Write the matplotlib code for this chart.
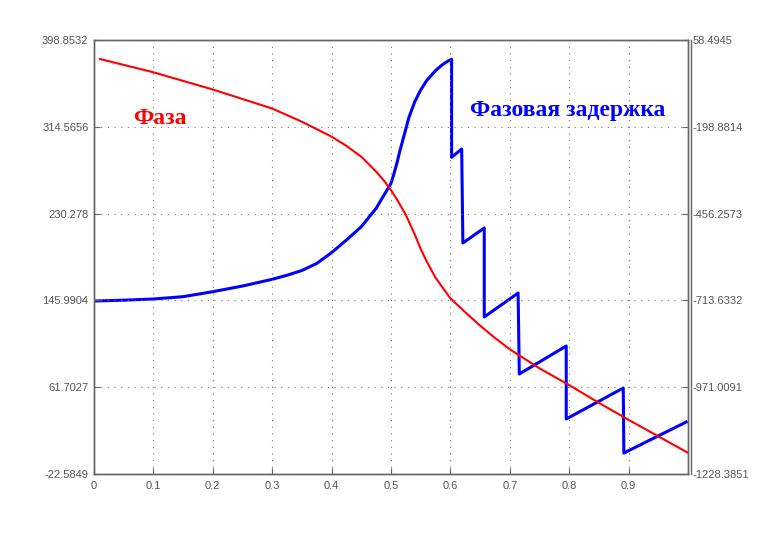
import numpy as np
import matplotlib
matplotlib.use("Agg")
import matplotlib.pyplot as plt
from matplotlib.lines import Line2D

# --- data ---
# red curve "Фаза" (left axis)
phase_x = [0.01, 0.1, 0.2, 0.3, 0.35, 0.4, 0.425, 0.45, 0.475, 0.49, 0.5,
           0.51, 0.525, 0.54, 0.55, 0.56, 0.575, 0.59, 0.6, 0.625,
           0.65, 0.675, 0.7, 0.75, 0.8, 0.85, 0.9, 0.95, 1.0]
phase_y = [380.4, 367.5, 350.8, 332.3, 319.5, 305.0, 296.0, 285.5, 271.0,
           261.0, 253.0, 244.0, 229.0, 210.0, 196.0, 184.0, 168.0, 156.0,
           148.0, 134.5, 121.5, 109.5, 98.5, 80.0, 63.8, 46.5, 30.0, 14.0,
           -2.0]

# blue curve "Фазовая задержка" (right axis)
delay_x = [0.0, 0.05, 0.1, 0.15, 0.2, 0.25, 0.3, 0.325, 0.35, 0.375, 0.4,
           0.425, 0.45, 0.475, 0.49, 0.5, 0.505, 0.51, 0.515, 0.525, 0.53,
           0.54, 0.55, 0.56, 0.575, 0.585, 0.59, 0.595, 0.602,
           0.602, 0.619, 0.621, 0.657, 0.657, 0.714, 0.716, 0.795, 0.795,
           0.891, 0.892, 0.997]
delay_y = [-715.4, -713.0, -709.5, -702.6, -687.8, -671.0, -651.1, -639.0,
           -625.0, -604.0, -572.0, -534.5, -495.1, -440.6, -396.0, -366.4,
           -338.0, -306.2, -270.0, -205.0, -172.0, -124.4, -89.8, -62.1,
           -32.0, -17.0, -10.5, -5.0, 1.3,
           -289.3, -264.7, -543.4, -498.9, -762.8, -691.7, -931.9, -848.8,
           -1065.3, -973.4, -1166.2, -1074.2]

x_ticks = [0, 0.1, 0.2, 0.3, 0.4, 0.5, 0.6, 0.7, 0.8, 0.9]
x_labels = ['0', '0.1', '0.2', '0.3', '0.4', '0.5', '0.6', '0.7', '0.8', '0.9']
left_lim = (-22.5849, 398.8532)
left_labels = ['-22.5849', '61.7027', '145.9904', '230.278', '314.5656', '398.8532']
right_lim = (-1228.3851, 58.4945)
right_labels = ['-1228.3851', '-971.0091', '-713.6332', '-456.2573', '-198.8814', '58.4945']

W, H = 771, 533
axcol = '#666666'
txtcol = '#555555'
plt.rcParams['font.family'] = ['Liberation Sans', 'DejaVu Sans']

fig = plt.figure(figsize=(W / 100, H / 100), dpi=100)
fig.patch.set_facecolor('white')
ax = fig.add_axes([94 / W, (H - 474) / H, (688 - 94) / W, (474 - 40) / H])
ax2 = ax.twinx()

ax.plot(phase_x, phase_y, color='#ff0000', lw=1.5, zorder=3)
ax2.plot(delay_x, delay_y, color='#0000ff', lw=2.2, zorder=3)

ax.set_xlim(0, 1)
ax.set_ylim(*left_lim)
ax2.set_ylim(*right_lim)

ax.set_xticks(x_ticks)
ax.set_xticklabels(x_labels)
ax.set_yticks(np.linspace(left_lim[0], left_lim[1], 6))
ax.set_yticklabels(left_labels)
ax2.set_yticks(np.linspace(right_lim[0], right_lim[1], 6))
ax2.set_yticklabels(right_labels)

grid_style = dict(color='#777777', linestyle=(0, (1, 5)), linewidth=0.8)
ax.grid(True, **grid_style)

for a in (ax, ax2):
    for s in a.spines.values():
        s.set_color(axcol)
        s.set_linewidth(1.0)
    a.tick_params(direction='in', length=4, color=axcol, labelcolor=txtcol,
                  labelsize=8, pad=4)
ax.tick_params(axis='x', pad=5)
ax2.tick_params(axis='y', pad=3)
ax.set_zorder(ax2.get_zorder() + 1)
ax.patch.set_visible(False)

# second vertical frame line on the right (like the reference)
fig.add_artist(Line2D([691 / W, 691 / W], [(H - 474) / H, (H - 40) / H],
                      color=axcol, lw=1.0, transform=fig.transFigure))

ax.text(0.066, 323, 'Фаза', color='#ff0000', fontsize=17, fontweight='bold',
        family='Liberation Serif', va='center', ha='left')
ax.text(0.633, 330, 'Фазовая задержка', color='#0000ff', fontsize=17,
        fontweight='bold', family='Liberation Serif', va='center', ha='left')

fig.savefig('out.png', dpi=100)
